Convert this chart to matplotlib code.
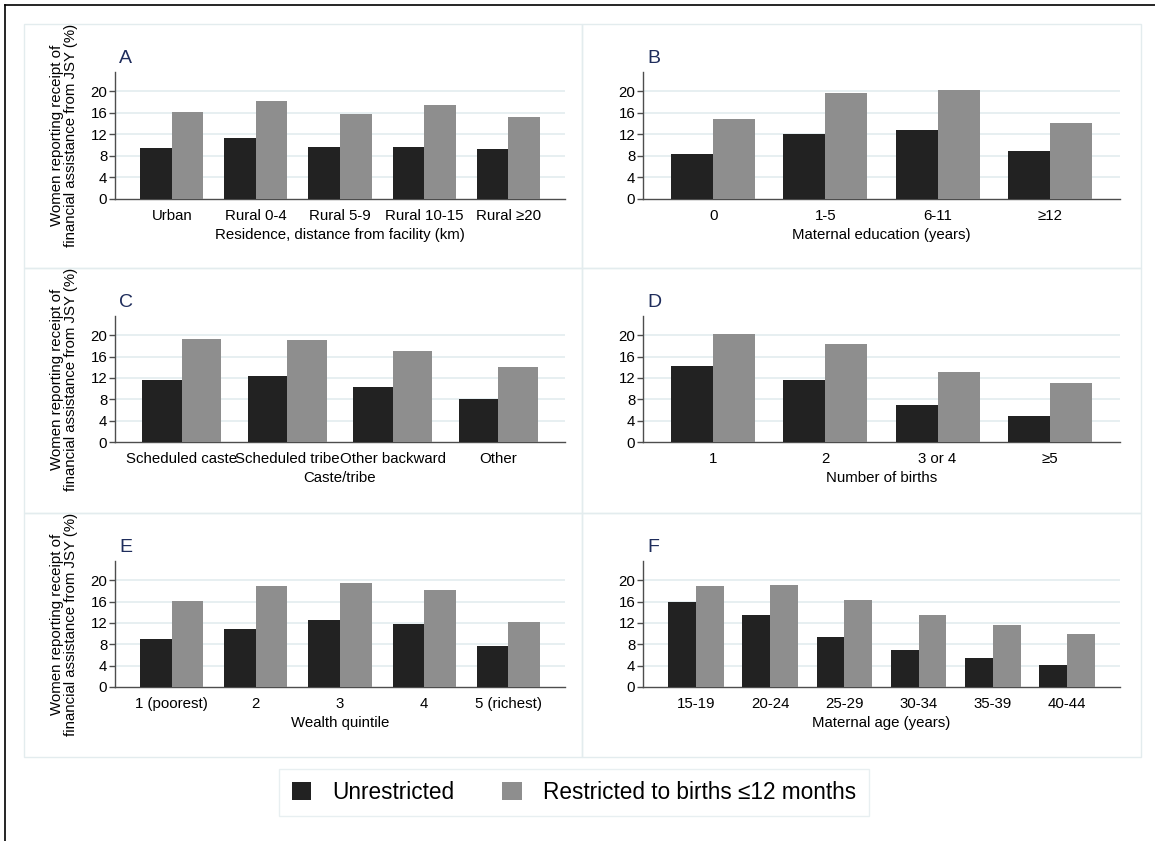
import numpy as np
import matplotlib.pyplot as plt
from matplotlib.patches import Patch, Rectangle

plt.rcParams['font.family'] = ['Liberation Sans', 'DejaVu Sans']

# JSY receipt (%) by subgroup: unrestricted vs births within 12 months
resid_cats = ["Urban", "Rural 0-4", "Rural 5-9", "Rural 10-15", "Rural \u226520"]
resid_unres = [9.4, 11.3, 9.6, 9.7, 9.2]
resid_restr = [16.1, 18.2, 15.75, 17.4, 15.3]

edu_cats = ["0", "1-5", "6-11", "\u226512"]
edu_unres = [8.4, 12.1, 12.9, 8.9]
edu_restr = [14.9, 19.7, 20.2, 14.05]

caste_cats = ["Scheduled caste", "Scheduled tribe", "Other backward", "Other"]
caste_unres = [11.7, 12.3, 10.25, 8.0]
caste_restr = [19.25, 19.1, 17.1, 14.0]

births_cats = ["1", "2", "3 or 4", "\u22655"]
births_unres = [14.25, 11.6, 6.95, 4.9]
births_restr = [20.25, 18.4, 13.1, 11.1]

wealth_cats = ["1 (poorest)", "2", "3", "4", "5 (richest)"]
wealth_unres = [9.05, 10.8, 12.6, 11.8, 7.6]
wealth_restr = [16.1, 18.95, 19.55, 18.1, 12.2]

age_cats = ["15-19", "20-24", "25-29", "30-34", "35-39", "40-44"]
age_unres = [15.9, 13.4, 9.4, 7.0, 5.5, 4.1]
age_restr = [18.9, 19.1, 16.25, 13.4, 11.7, 10.0]

panels = [
    ("A", resid_cats, resid_unres, resid_restr, "Residence, distance from facility (km)", 0.30),
    ("B", edu_cats, edu_unres, edu_restr, "Maternal education (years)", 0.25),
    ("C", caste_cats, caste_unres, caste_restr, "Caste/tribe", 0.26),
    ("D", births_cats, births_unres, births_restr, "Number of births", 0.25),
    ("E", wealth_cats, wealth_unres, wealth_restr, "Wealth quintile", 0.30),
    ("F", age_cats, age_unres, age_restr, "Maternal age (years)", 0.34),
]

W, H = 1155, 841
DARK = "#222222"
GREY = "#8e8e8e"
GRID = "#e3ecef"
BOXC = "#e3ecee"
NAVY = "#1f2d5c"
bw = 0.375

fig = plt.figure(figsize=(W / 100, H / 100), dpi=100)

def fx(px):
    return px / W

def fy(py):
    return 1 - py / H

# outer frame (left and top edges)
fig.add_artist(plt.Line2D([fx(5), fx(5)], [fy(5), 0], color="black", lw=1.2))
fig.add_artist(plt.Line2D([fx(5), 1], [fy(5), fy(5)], color="black", lw=1.2))

col_x = [(115, 565), (643, 1120)]
row_y = [(72, 199), (316, 442), (561, 687)]
box_x = [(24, 582), (582, 1141)]
box_y = [(24, 268), (268, 513), (513, 757)]

for i, (letter, cats, unres, restr, xlab, gap) in enumerate(panels):
    r, c = divmod(i, 2)
    x0, x1 = col_x[c]
    y0, y1 = row_y[r]
    fig.add_artist(Rectangle((fx(box_x[c][0]), fy(box_y[r][1])),
                             fx(box_x[c][1] - box_x[c][0]), (box_y[r][1] - box_y[r][0]) / H,
                             fill=False, edgecolor=BOXC, lw=1))
    ax = fig.add_axes([fx(x0), fy(y1), fx(x1 - x0), (y1 - y0) / H])
    pos = np.arange(len(cats))
    ax.bar(pos - bw / 2, unres, bw, color=DARK, zorder=3)
    ax.bar(pos + bw / 2, restr, bw, color=GREY, zorder=3)
    ax.set_xlim(-bw - gap, len(cats) - 1 + bw + gap)
    ax.set_ylim(0, 23.6)
    ax.set_yticks([0, 4, 8, 12, 16, 20])
    for g in [4, 8, 12, 16, 20]:
        ax.axhline(g, color=GRID, lw=1.2, zorder=1)
    ax.set_xticks(pos)
    ax.set_xticklabels(cats)
    ax.tick_params(axis="x", length=0, pad=7, labelsize=10.8)
    ax.tick_params(axis="y", length=4, width=1, pad=1.5, labelsize=10.8, color="#4d4d4d")
    for s in ["top", "right"]:
        ax.spines[s].set_visible(False)
    for s in ["left", "bottom"]:
        ax.spines[s].set_color("#4d4d4d")
        ax.spines[s].set_linewidth(1)
    ax.set_xlabel(xlab, fontsize=10.8)
    ax.xaxis.set_label_coords(0.5, -36 / (y1 - y0))
    ax.xaxis.label.set_va("center")
    ax.text(4 / (x1 - x0), 1 + 9 / (y1 - y0), letter, transform=ax.transAxes,
            fontsize=14, color=NAVY, ha="left", va="baseline")
    if c == 0:
        fig.text(fx(64), fy((y0 + y1) / 2), "Women reporting receipt of\nfinancial assistance from JSY (%)",
                 rotation=90, ha="center", va="center", multialignment="center",
                 fontsize=10.8, linespacing=1.05)

handles = [Patch(facecolor=DARK), Patch(facecolor=GREY)]
leg = fig.legend(handles, ["Unrestricted", "Restricted to births \u226412 months"],
                 loc="center", bbox_to_anchor=(fx(574), fy(792.5)), ncol=2,
                 fontsize=16.3, handlelength=0.85, handleheight=0.85,
                 handletextpad=0.95, columnspacing=2.1, borderpad=0.55,
                 fancybox=False, frameon=True)
leg.get_frame().set_edgecolor(BOXC)
leg.get_frame().set_linewidth(1)

fig.savefig("out.png", dpi=100)
